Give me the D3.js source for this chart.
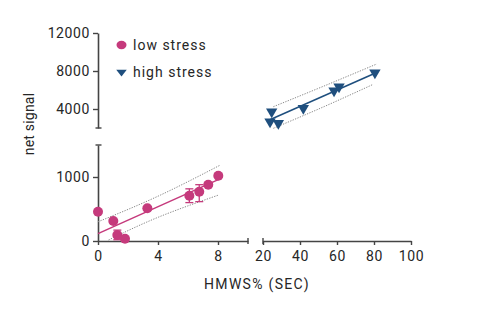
<!DOCTYPE html>
<html><head><meta charset="utf-8">
<script src="https://cdn.jsdelivr.net/npm/d3@7"></script>
<style>body{margin:0;background:#fff}svg{display:block}</style>
</head><body>
<svg id="c" width="501" height="312"></svg>
<script>
// ---- data ----
const lowX = [0, 1.02, 1.29, 1.8, 3.29, 6.09, 6.75, 7.35, 8.02];
const lowY = [458, 312, 94, 36, 511, 708, 770, 880, 1020];
const lowErrX = [1.29, 6.09, 6.75];
const lowErrLo = [20, 600, 615];
const lowErrHi = [170, 815, 880];
const lowFitX = [0, 8.02];
const lowFitY = [115, 960];
const lowUpX = [0, 4, 8.1];
const lowUpY = [300, 700, 1180];
const lowLoX = [0.7, 4, 8.0];
const lowLoY = [15, 370, 715];

const highX = [24.7, 23.8, 28.3, 41.8, 58.4, 61.1, 80.5];
const highY = [3716, 2663, 2495, 4074, 5926, 6350, 7821];
const highFitX = [23.4, 80.5];
const highFitY = [2842, 7758];
const highUpX = [25.6, 53, 81.5];
const highUpY = [4242, 6420, 8737];
const highLoX = [25.6, 53, 79.6];
const highLoY = [1968, 4250, 6600];

const xTicksLow = [0, 4, 8];
const xTicksHigh = [20, 40, 60, 80, 100];
const yTicksLow = [0, 1000];
const yTicksHigh = [4000, 8000, 12000];
const seriesNames = ["low stress", "high stress"];

// ---- styles ----
const pink = "#c53a7c", blue = "#1f4f7e", axisCol = "#444", textCol = "#262626";
const font = "Roboto, 'Noto Sans', sans-serif";

const svg = d3.select("#c");

const xL = d3.scaleLinear().domain([0, 10]).range([98, 248]);
const xH = d3.scaleLinear().domain([20, 100]).range([263, 411]);
const yL = d3.scaleLinear().domain([0, 1500]).range([241, 145]);
const yH = d3.scaleLinear().domain([2000, 12000]).range([128, 33]);

function styleAxis(g, ls) {
  g.selectAll("path.domain").attr("stroke", axisCol).attr("stroke-width", 1.6);
  g.selectAll(".tick line").attr("stroke", axisCol).attr("stroke-width", 1.4);
  g.selectAll(".tick text").attr("fill", textCol).style("font-family", font)
    .style("font-size", "14px").style("letter-spacing", ls + "px");
}

svg.append("g").attr("transform", "translate(0,241)")
  .call(d3.axisBottom(xL).tickValues(xTicksLow).tickSize(4).tickSizeOuter(0).tickPadding(6).tickFormat(d3.format("d")))
  .call(g => styleAxis(g, 0.6));
svg.append("g").attr("transform", "translate(0,241)")
  .call(d3.axisBottom(xH).tickValues(xTicksHigh).tickSize(4).tickSizeOuter(0).tickPadding(6).tickFormat(d3.format("d")))
  .call(g => styleAxis(g, 0.6));
svg.append("g").attr("transform", "translate(98,0)")
  .call(d3.axisLeft(yL).tickValues(yTicksLow).tickSize(5).tickSizeOuter(0).tickPadding(3).tickFormat(d3.format("d")))
  .call(g => styleAxis(g, 0.6));
svg.append("g").attr("transform", "translate(98,0)")
  .call(d3.axisLeft(yH).tickValues(yTicksHigh).tickSize(5).tickSizeOuter(0).tickPadding(3).tickFormat(d3.format("d")))
  .call(g => styleAxis(g, 0.6));

// break caps
const caps = svg.append("g").attr("stroke", axisCol).attr("stroke-width", 1.4);
caps.append("line").attr("x1", 95.5).attr("x2", 101.5).attr("y1", yH(2000)).attr("y2", yH(2000));
caps.append("line").attr("x1", 95.5).attr("x2", 101.5).attr("y1", yL(1500)).attr("y2", yL(1500));
caps.append("line").attr("x1", xL(10)).attr("x2", xL(10)).attr("y1", 238).attr("y2", 244);
caps.append("line").attr("x1", xH(20)).attr("x2", xH(20)).attr("y1", 238).attr("y2", 244);

// axis titles
svg.append("text").attr("x", 257).attr("y", 289).attr("text-anchor", "middle")
  .style("font-family", font).style("font-size", "14px").style("letter-spacing", "1.3px")
  .attr("fill", textCol).text("HMWS% (SEC)");
svg.append("text").attr("transform", "translate(34,124) rotate(-90)").attr("text-anchor", "middle")
  .style("font-family", font).style("font-size", "14px").style("letter-spacing", "0.2px")
  .attr("fill", textCol).text("net signal");

const line = (xs, ys, xsc, ysc) => d3.line()(xs.map((x, i) => [xsc(x), ysc(ys[i])]));
const curve = (xs, ys, xsc, ysc) => d3.line().curve(d3.curveNatural)(xs.map((x, i) => [xsc(x), ysc(ys[i])]));

// bands
[[lowUpX, lowUpY, xL, yL], [lowLoX, lowLoY, xL, yL], [highUpX, highUpY, xH, yH], [highLoX, highLoY, xH, yH]]
  .forEach(([xs, ys, xs_, ys_]) => svg.append("path").attr("d", curve(xs, ys, xs_, ys_))
    .attr("fill", "none").attr("stroke", "#8a8a8a").attr("stroke-width", 1).attr("stroke-dasharray", "1.3,1.3"));

// fits
svg.append("path").attr("d", line(lowFitX, lowFitY, xL, yL)).attr("stroke", pink).attr("stroke-width", 1.5).attr("fill", "none");
svg.append("path").attr("d", line(highFitX, highFitY, xH, yH)).attr("stroke", blue).attr("stroke-width", 1.5).attr("fill", "none");

// error bars
const eb = svg.append("g").attr("stroke", pink).attr("stroke-width", 1.3);
lowErrX.forEach((x, i) => {
  const cx = xL(x);
  eb.append("line").attr("x1", cx).attr("x2", cx).attr("y1", yL(lowErrLo[i])).attr("y2", yL(lowErrHi[i]));
  eb.append("line").attr("x1", cx - 4).attr("x2", cx + 4).attr("y1", yL(lowErrLo[i])).attr("y2", yL(lowErrLo[i]));
  eb.append("line").attr("x1", cx - 4).attr("x2", cx + 4).attr("y1", yL(lowErrHi[i])).attr("y2", yL(lowErrHi[i]));
});

// points
svg.append("g").selectAll("circle").data(lowX).join("circle")
  .attr("cx", d => xL(d)).attr("cy", (d, i) => yL(lowY[i])).attr("r", 5).attr("fill", pink);
const tri = d3.symbol().type(d3.symbolTriangle).size(56);
svg.append("g").selectAll("path").data(highX).join("path")
  .attr("d", tri).attr("fill", blue)
  .attr("transform", (d, i) => `translate(${xH(d)},${yH(highY[i])}) rotate(180)`);

// legend
const lg = svg.append("g");
lg.append("ellipse").attr("cx", 121.5).attr("cy", 45).attr("rx", 5).attr("ry", 4.2).attr("fill", pink);
lg.append("path").attr("d", d3.symbol().type(d3.symbolTriangle).size(40)).attr("fill", blue)
  .attr("transform", "translate(121.5,72) rotate(180) scale(1.1,0.8)");
lg.selectAll("text").data(seriesNames).join("text")
  .attr("x", 133).attr("y", (d, i) => 50 + i * 27)
  .style("font-family", font).style("font-size", "14px").style("letter-spacing", "1px")
  .attr("fill", textCol).text(d => d);
</script>
</body></html>
